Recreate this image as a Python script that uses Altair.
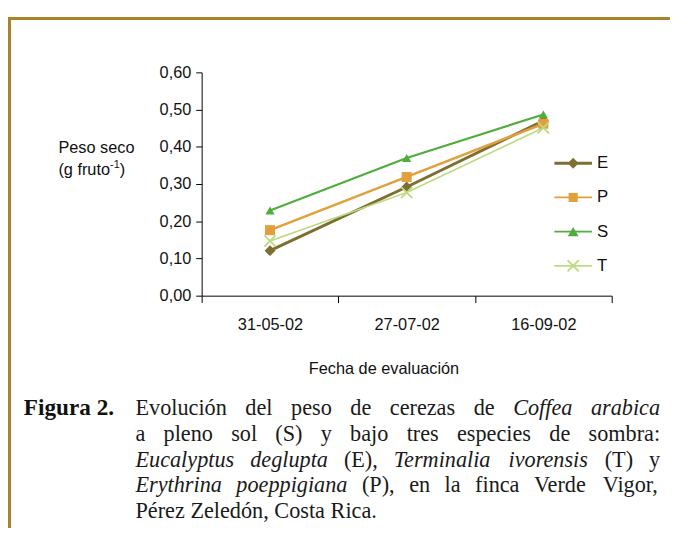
import altair as alt
import pandas as pd

# ---------------- data ----------------
dates = ["31-05-02", "27-07-02", "16-09-02"]
series = ["E", "P", "S", "T"]
peso_E = [0.121, 0.292, 0.470]
peso_P = [0.176, 0.319, 0.462]
peso_S = [0.229, 0.370, 0.487]
peso_T = [0.147, 0.277, 0.451]
y_ticks = [0.0, 0.1, 0.2, 0.3, 0.4, 0.5, 0.6]

colors = ["#7D6E32", "#E2A03C", "#4EAD3B", "#BCDA80"]
line_widths = [3.0, 1.7, 1.7, 1.7]
shapes = ["diamond", "square", "triangle-up"]
shape_sizes = [120, 85, 120]
X_PATH = "M-1,-1L1,1M-1,1L1,-1"

x_title = "Fecha de evaluación"
y_title_1 = "Peso seco"
y_title_2a = "(g fruto"
y_title_2sup = "-1"
y_title_2b = ")"

caption_label = "Figura 2."
caption_lines = [
    [("Evolución", "n"), ("del", "n"), ("peso", "n"), ("de", "n"), ("cerezas", "n"),
     ("de", "n"), ("Coffea", "i"), ("arabica", "i")],
    [("a", "n"), ("pleno", "n"), ("sol", "n"), ("(S)", "n"), ("y", "n"), ("bajo", "n"),
     ("tres", "n"), ("especies", "n"), ("de", "n"), ("sombra:", "n")],
    [("Eucalyptus", "i"), ("deglupta", "i"), ("(E),", "n"), ("Terminalia", "i"),
     ("ivorensis", "i"), ("(T)", "n"), ("y", "n")],
    [("Erythrina", "i"), ("poeppigiana", "i"), ("(P),", "n"), ("en", "n"), ("la", "n"),
     ("finca", "n"), ("Verde", "n"), ("Vigor,", "n")],
    [("Pérez", "n"), ("Zeledón,", "n"), ("Costa", "n"), ("Rica.", "n")],
]

rows = []
for s, vals in zip(series, [peso_E, peso_P, peso_S, peso_T]):
    for d, v in zip(dates, vals):
        rows.append({"serie": s, "fecha": d, "peso": v})
df = pd.DataFrame(rows)

# ---------------- layout (page pixels) ----------------
OX, OY = 204, 70          # page position of plot origin
W, H = 415, 226           # plot area
CANVAS_W, CANVAS_H = 670, 520
SANS = "Liberation Sans"
SERIF = "Liberation Serif"
AX_FS = 16.5
CAP_FS = 22.5
LABEL_FS = 23.5
TXT = "#111111"


def px(x):
    return x - OX


def py(y):
    return y - OY


ONE = alt.Data(values=[{"k": 1}])


def txt(s, x, y, size, font, style="normal", weight="normal", align="left",
        baseline="alphabetic", color=TXT):
    return alt.Chart(ONE).mark_text(
        align=align, baseline=baseline, font=font, fontSize=size,
        fontStyle=style, fontWeight=weight, color=color
    ).encode(x=alt.value(px(x)), y=alt.value(py(y)), text=alt.value(s))


# font metrics (1/1000 em) for layout of caption text
TIMES_R = {' ': 250, 'a': 444, 'b': 500, 'c': 444, 'd': 500, 'e': 444, 'f': 333, 'g': 500,
           'h': 500, 'i': 278, 'j': 278, 'k': 500, 'l': 278, 'm': 778, 'n': 500, 'o': 500,
           'p': 500, 'q': 500, 'r': 333, 's': 389, 't': 278, 'u': 500, 'v': 500, 'w': 722,
           'x': 500, 'y': 500, 'z': 444, 'é': 444, 'ó': 500, 'E': 611, 'P': 556, 'Z': 611,
           'C': 667, 'R': 667, 'S': 556, 'T': 611, 'V': 722, '(': 333, ')': 333, ',': 250,
           '.': 250, ':': 278}
TIMES_I = {'a': 500, 'b': 500, 'c': 444, 'd': 500, 'e': 444, 'f': 278, 'g': 500, 'h': 500,
           'i': 278, 'l': 278, 'm': 722, 'n': 500, 'o': 500, 'p': 500, 'r': 389, 's': 389,
           't': 278, 'u': 500, 'v': 444, 'y': 444, 'C': 667, 'E': 611, 'T': 556}
ARIAL = {'P': 667, 'e': 556, 's': 500, 'o': 556, ' ': 278, 'c': 500, '(': 333, 'g': 556,
         'f': 278, 'r': 333, 'u': 556, 't': 278, '-': 333, '1': 556, ')': 333}


def width(s, table, size):
    return sum(table.get(ch, 500) for ch in s) / 1000.0 * size


# ---------------- chart ----------------
x_enc = alt.X(
    "fecha:N", sort=dates,
    scale=alt.Scale(type="band", paddingInner=0, paddingOuter=0),
    axis=alt.Axis(
        title=x_title, labelAngle=0, tickBand="extent", grid=False,
        domainColor="#000000", tickColor="#000000", domainWidth=1, tickWidth=1,
        tickSize=7, labelPadding=14, labelFont=SANS, labelFontSize=AX_FS,
        labelColor=TXT, titleFont=SANS, titleFontSize=AX_FS, titleFontWeight="normal",
        titleColor=TXT, titleX=184, titleY=74, titleAlign="center",
        titleBaseline="middle",
    ),
)
y_enc = alt.Y(
    "peso:Q",
    scale=alt.Scale(domain=[0, 0.6], nice=False),
    axis=alt.Axis(
        title=None, values=y_ticks, grid=False,
        labelExpr="replace(format(datum.value, '.2f'), '.', ',')",
        domainColor="#000000", tickColor="#000000", domainWidth=1, tickWidth=1,
        tickSize=6, labelPadding=5, labelFont=SANS, labelFontSize=AX_FS,
        labelColor=TXT,
    ),
)
color_enc = alt.Color("serie:N", scale=alt.Scale(domain=series, range=colors), legend=None)

lines = alt.Chart(df).mark_line().encode(
    x=x_enc, y=y_enc, color=color_enc,
    strokeWidth=alt.StrokeWidth("serie:N", scale=alt.Scale(domain=series, range=line_widths),
                                legend=None),
)

filled_pts = alt.Chart(df).transform_filter(
    alt.FieldOneOfPredicate(field="serie", oneOf=series[:3])
).mark_point(filled=True, opacity=1).encode(
    x=x_enc, y=y_enc, color=color_enc,
    shape=alt.Shape("serie:N", scale=alt.Scale(domain=series[:3], range=shapes), legend=None),
    size=alt.Size("serie:N", scale=alt.Scale(domain=series[:3], range=shape_sizes), legend=None),
)

x_pts = alt.Chart(df).transform_filter(
    alt.FieldEqualPredicate(field="serie", equal="T")
).mark_point(shape=X_PATH, filled=False, opacity=1, size=130, strokeWidth=1.8).encode(
    x=x_enc, y=y_enc, color=color_enc,
)

layers = [lines, filled_pts, x_pts]

# ---------------- legend (manual) ----------------
LEG_Y0, LEG_DY = 162, 34.6
for i, s in enumerate(series):
    ly = LEG_Y0 + i * LEG_DY
    layers.append(
        alt.Chart(ONE).mark_rule(color=colors[i], strokeWidth=line_widths[i]).encode(
            x=alt.value(px(561)), x2=alt.value(px(599)), y=alt.value(py(ly)))
    )
    if s == "T":
        layers.append(
            alt.Chart(ONE).mark_point(shape=X_PATH, filled=False, opacity=1, size=130,
                                      strokeWidth=1.8, color=colors[i]).encode(
                x=alt.value(px(580)), y=alt.value(py(ly)))
        )
    else:
        layers.append(
            alt.Chart(ONE).mark_point(shape=shapes[i], filled=True, opacity=1,
                                      size=shape_sizes[i], color=colors[i]).encode(
                x=alt.value(px(580)), y=alt.value(py(ly)))
        )
    layers.append(txt(s, 604, ly, 17, SANS, baseline="middle"))

# ---------------- y-axis title (horizontal, two lines) ----------------
YT_X = 59
layers.append(txt(y_title_1, YT_X, 152, AX_FS, SANS))
layers.append(txt(y_title_2a, YT_X, 174, AX_FS, SANS))
sx = YT_X + width(y_title_2a, ARIAL, AX_FS)
layers.append(txt(y_title_2sup, sx, 167, 11, SANS))
sx2 = sx + width(y_title_2sup, ARIAL, 11)
layers.append(txt(y_title_2b, sx2, 174, AX_FS, SANS))

# ---------------- frame border ----------------
BORDER = "#A8832A"
layers.append(alt.Chart(ONE).mark_rule(color=BORDER, strokeWidth=3).encode(
    x=alt.value(px(9.5)), y=alt.value(py(14)), y2=alt.value(py(540))))
layers.append(alt.Chart(ONE).mark_rule(color=BORDER, strokeWidth=3).encode(
    y=alt.value(py(15.5)), x=alt.value(px(8)), x2=alt.value(px(690))))

# ---------------- caption ----------------
CAP_L, CAP_R = 137, 668
CAP_Y0, CAP_DY = 417, 26
layers.append(txt(caption_label, 24, CAP_Y0, LABEL_FS, SERIF, weight="bold"))
for li, line in enumerate(caption_lines):
    yb = CAP_Y0 + li * CAP_DY
    ws = [width(w, TIMES_I if st == "i" else TIMES_R, CAP_FS) for w, st in line]
    if li == len(caption_lines) - 1:
        gap = 0.25 * CAP_FS
    else:
        gap = (CAP_R - CAP_L - sum(ws)) / (len(line) - 1)
    xcur = CAP_L
    for (w, st), wd in zip(line, ws):
        layers.append(txt(w, xcur, yb, CAP_FS, SERIF, style="italic" if st == "i" else "normal",
                          color="#1a1a1a"))
        xcur += wd + gap

chart = alt.layer(*layers).properties(
    width=W, height=H,
    autosize=alt.AutoSizeParams(type="none"),
    padding={"left": OX - 8, "top": OY - 8,
             "right": CANVAS_W - (OX - 8) - W, "bottom": CANVAS_H - (OY - 8) - H},
    background="white",
).configure_view(stroke=None)

chart.save("out.html", embed_options={"renderer": "svg", "actions": False})
